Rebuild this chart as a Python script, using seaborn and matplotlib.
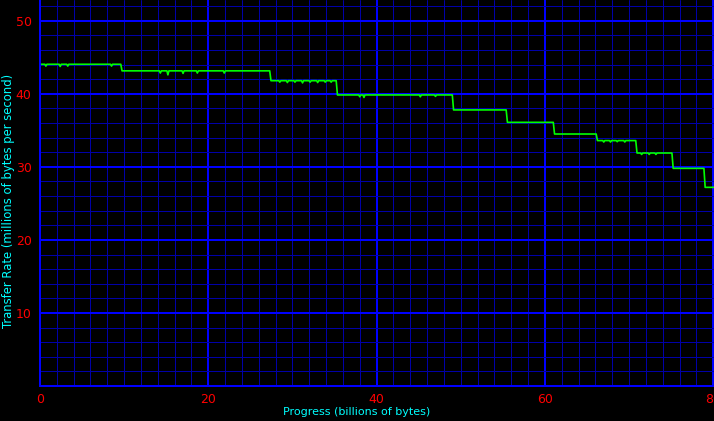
import matplotlib
matplotlib.use('Agg')
import matplotlib.pyplot as plt
from matplotlib.ticker import MultipleLocator
import pandas as pd
import seaborn as sns

# Step levels of the transfer rate (millions of bytes/s) and where each level starts/ends (billions of bytes)
step_starts = [0.0, 9.6, 27.3, 35.2, 49.0, 55.4, 61.0, 66.1, 70.8, 75.1, 78.9]
step_ends = [9.6, 27.3, 35.2, 49.0, 55.4, 61.0, 66.1, 70.8, 75.1, 78.9, 80.1]
step_levels = [44.05, 43.15, 41.8, 39.85, 37.8, 36.1, 34.5, 33.6, 31.9, 29.8, 27.2]

# Small dips visible on the trace: position and value at the bottom of the dip
dip_x = [0.7, 2.4, 3.3, 8.5, 14.3, 15.2, 17.0, 18.7, 21.9,
         28.5, 29.4, 30.3, 31.2, 32.1, 33.0, 33.9, 34.6,
         38.0, 38.5, 45.2, 47.0, 67.0, 67.8, 68.6, 69.5, 71.5, 72.4, 73.2]
dip_y = [43.8, 43.75, 43.8, 43.8, 42.85, 42.6, 42.8, 42.85, 42.85,
         41.6, 41.55, 41.6, 41.5, 41.6, 41.55, 41.6, 41.6,
         39.6, 39.5, 39.6, 39.65, 33.4, 33.4, 33.45, 33.4, 31.7, 31.7, 31.7]

# Build the trace (flat levels, a short ramp between them, dips inserted)
xs, ys = [], []
for s, e, lv in zip(step_starts, step_ends, step_levels):
    pts = [(s + 0.15 if s > 0 else s, lv)]
    for dx, dy in zip(dip_x, dip_y):
        if s + 0.2 < dx < e - 0.2:
            pts += [(dx - 0.12, lv), (dx, dy), (dx + 0.12, lv)]
    pts.append((e, lv))
    for px, py in pts:
        xs.append(px)
        ys.append(py)
trace = pd.DataFrame({'progress': xs, 'rate': ys})

sns.set_style('dark', {'axes.facecolor': 'black', 'figure.facecolor': 'black'})
fig = plt.figure(figsize=(7.14, 4.21), dpi=100)
ax = fig.add_axes([40 / 714, 35 / 421, 674 / 714, 386 / 421])

ax.set_xlim(0, 80.1)
ax.set_ylim(0, 52.85)
ax.xaxis.set_major_locator(MultipleLocator(20))
ax.xaxis.set_minor_locator(MultipleLocator(2))
ax.yaxis.set_major_locator(MultipleLocator(10))
ax.yaxis.set_minor_locator(MultipleLocator(2))
# 0.72 pt = 1 px and 1.44 pt = 2 px at 100 dpi, so snapped lines stay crisp
ax.grid(which='minor', color='#0000a8', linewidth=0.72, snap=True)
ax.grid(which='major', color='#0000ff', linewidth=1.44, snap=True)
ax.set_axisbelow(True)

sns.lineplot(data=trace, x='progress', y='rate', ax=ax, color='#00ff00',
             linewidth=1.2, sort=False)

for side in ['top', 'right']:
    ax.spines[side].set_visible(False)
for side in ['left', 'bottom']:
    ax.spines[side].set_color('#0000ff')
    ax.spines[side].set_linewidth(1.44)

ax.tick_params(which='both', length=0, colors='#ff0000', labelsize=9)
ax.tick_params(axis='x', pad=5)
ax.tick_params(axis='y', pad=6)
ax.set_yticks([10, 20, 30, 40, 50])
ax.set_xticks([0, 20, 40, 60, 80])

ax.set_xlabel('Progress (billions of bytes)', color='#00ffff', fontsize=8)
ax.set_ylabel('Transfer Rate (millions of bytes per second)', color='#00ffff', fontsize=8.4)
ax.xaxis.set_label_coords((357 - 40) / 674, -21 / 386)
ax.yaxis.set_label_coords(-25 / 674, (386 - 201) / 386)

fig.savefig('out.png', dpi=100, facecolor='black')
